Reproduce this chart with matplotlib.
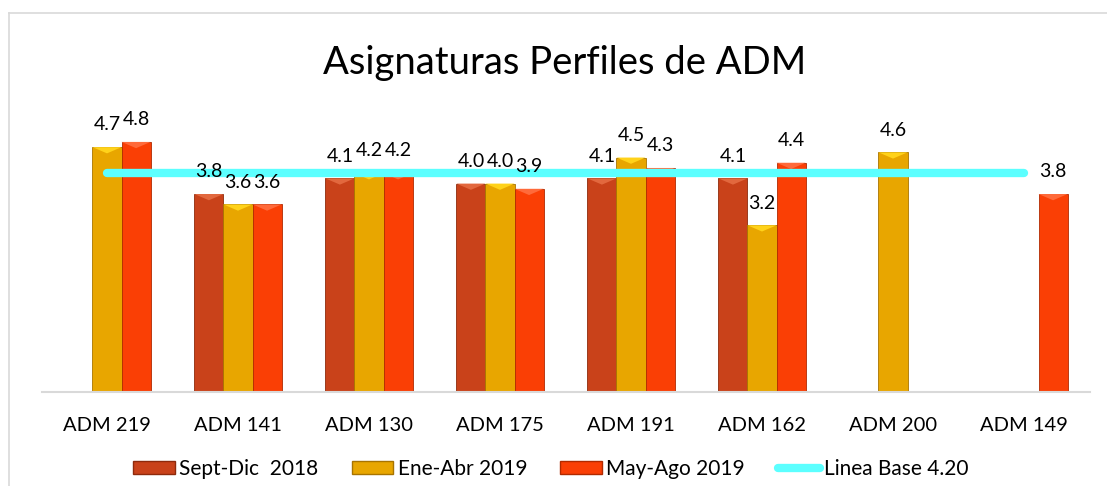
import matplotlib
matplotlib.use("Agg")
import matplotlib.pyplot as plt
import numpy as np
from matplotlib.patches import Polygon, Rectangle
from matplotlib.lines import Line2D

categories = ["ADM 219", "ADM 141", "ADM 130", "ADM 175", "ADM 191", "ADM 162", "ADM 200", "ADM 149"]
sept_dic_2018 = [None, 3.8, 4.1, 4.0, 4.1, 4.1, None, None]
ene_abr_2019 = [4.7, 3.6, 4.2, 4.0, 4.5, 3.2, 4.6, None]
may_ago_2019 = [4.8, 3.6, 4.2, 3.9, 4.3, 4.4, None, 3.8]
linea_base = 4.20
series_names = ["Sept-Dic  2018", "Ene-Abr 2019", "May-Ago 2019"]
line_name = "Linea Base 4.20"

plt.rcParams['font.family'] = ['Lato', 'DejaVu Sans']

colors = ["#C9421A", "#E8A600", "#FA3F05"]
top_colors = ["#E2683E", "#FFD21A", "#FF6A3A"]
edge_colors = ["#8E2A0C", "#A87400", "#B02A00"]

fig = plt.figure(figsize=(11.07, 4.86), dpi=100)
ax = fig.add_axes([41.5/1107, (486-392)/486, (1089.5-41.5)/1107, 290/486])

x = np.arange(len(categories))
width = 0.222
offsets = [-width, 0, width]
all_series = [sept_dic_2018, ene_abr_2019, may_ago_2019]

ymax = 290/52.1
for s, (vals, off) in enumerate(zip(all_series, offsets)):
    xs = [xi + off for xi, v in zip(x, vals) if v is not None]
    vs = [v for v in vals if v is not None]
    bars = ax.bar(xs, vs, width=width, color=colors[s], edgecolor=edge_colors[s],
                  linewidth=0.6, zorder=2)
    for b, v in zip(bars, vs):
        bx, bw, bh = b.get_x(), b.get_width(), b.get_height()
        bev = 0.12  # data units of bevel height
        tri = Polygon([[bx, bh], [bx + bw, bh], [bx + bw*0.5, bh - bev]],
                      closed=True, facecolor=top_colors[s], edgecolor='none', zorder=3)
        ax.add_patch(tri)
        ax.annotate(f"{v:.1f}", (bx + bw/2, bh), xytext=(0, 16), textcoords='offset points',
                    ha='center', va='center', fontsize=14, color='black', zorder=6)

ax.plot([x[0], x[-1]], [linea_base, linea_base], color="#5CFFFF", linewidth=6,
        solid_capstyle='round', zorder=5)

ax.set_xlim(-0.5, len(categories) - 0.5)
ax.set_ylim(0, ymax)
ax.set_xticks(x)
ax.set_xticklabels(categories, fontsize=14.5)
ax.tick_params(axis='x', length=0, pad=18)
ax.set_yticks([])
for sp in ['top', 'right', 'left']:
    ax.spines[sp].set_visible(False)
ax.spines['bottom'].set_color("#D9D9D9")
ax.spines['bottom'].set_linewidth(1.5)

fig.text(565/1107, 1 - 63/486, "Asignaturas Perfiles de ADM", ha='center', va='center',
         fontsize=27.5, color='black')

handles = [Rectangle((0, 0), 1, 1, facecolor=colors[i], edgecolor=edge_colors[i]) for i in range(3)]
handles.append(Line2D([0], [0], color="#5CFFFF", linewidth=6, solid_capstyle='round'))
fig.legend(handles, series_names + [line_name], loc='center', bbox_to_anchor=(551/1107, 1 - 469/486),
           ncol=4, frameon=False, fontsize=15, handlelength=2.0, handleheight=0.6,
           handletextpad=0.2, columnspacing=1.6)

# outer chart frame
fig.add_artist(Line2D([8.5/1107, 8.5/1107], [0, 1 - 13.5/486], transform=fig.transFigure,
                      color="#D9D9D9", linewidth=1.2))
fig.add_artist(Line2D([8.5/1107, 1], [1 - 13.5/486, 1 - 13.5/486], transform=fig.transFigure,
                      color="#D9D9D9", linewidth=1.2))

fig.savefig("out.png", dpi=100)
